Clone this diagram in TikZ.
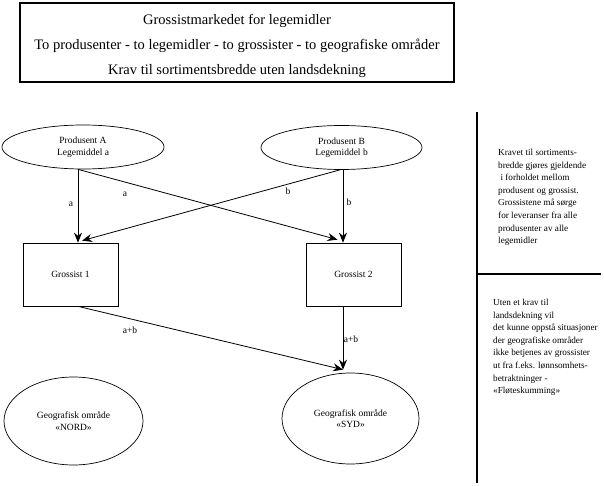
\documentclass[tikz,border=0pt]{standalone}
\usepackage{fontspec}
\setmainfont{Liberation Serif}
\usetikzlibrary{shapes.geometric,arrows.meta,calc}
\tikzset{
  ell/.style={draw,ellipse,inner sep=0pt,line width=0.7pt,font=\fontsize{9.5}{11.5}\selectfont,align=center},
  gbox/.style={draw,rectangle,inner sep=0pt,minimum width=95pt,minimum height=63pt,line width=0.7pt,font=\fontsize{9.5}{11.5}\selectfont},
  conn/.style={line width=0.8pt,-{Stealth[length=10pt,width=8pt]}},
  lbl/.style={font=\fontsize{9.5}{11.5}\selectfont,inner sep=0pt},
  sidetext/.style={font=\fontsize{9.2}{12.6}\selectfont,align=left,inner sep=0pt,anchor=north west},
  rule/.style={line width=1.6pt}
}
\begin{document}
\begin{tikzpicture}[x=1pt,y=-1pt]
\useasboundingbox (0,0) rectangle (604,486);
\node[draw,line width=1.3pt,minimum width=434pt,minimum height=79pt,inner sep=0pt] (titlebox) at (237,42.5) {};
\node[font=\fontsize{14.5}{25}\selectfont,align=center,inner sep=0pt] (title) at (237,46)
  {Grossistmarkedet for legemidler\\To produsenter - to legemidler - to grossister - to geografiske områder\\Krav til sortimentsbredde uten landsdekning};

\node[ell,minimum width=162pt,minimum height=44pt] (A) at (83,147) {Produsent A\\Legemiddel a};
\node[ell,minimum width=161pt,minimum height=44pt] (B) at (341.5,147.5) {Produsent B\\Legemiddel b};
\node[gbox] (G1) at (70.5,274.5) {Grossist 1};
\node[gbox] (G2) at (353.5,274.5) {Grossist 2};
\node[ell,minimum width=139pt,minimum height=88pt] (N) at (73.5,421) {Geografisk område\\«NORD»};
\node[ell,minimum width=137pt,minimum height=91pt] (S) at (350.5,418.5) {Geografisk område\\«SYD»};

\draw[conn] ([xshift=-5pt]A.south) -- ([xshift=7.5pt]G1.north);
\draw[conn] ([xshift=-5pt]A.south) -- ([xshift=-16pt,yshift=3pt]G2.north);
\draw[conn] ([xshift=-1.5pt]B.south) -- ([xshift=11.5pt,yshift=2pt]G1.north);
\draw[conn] ([xshift=1.5pt]B.south) -- ([xshift=-10.5pt]G2.north);
\draw[conn] ([xshift=7.5pt]G1.south) -- ([xshift=-7.5pt,yshift=3pt]S.north);
\draw[conn] ([xshift=-10.5pt]G2.south) -- ([xshift=-7.5pt,yshift=3pt]S.north);

\node[lbl] (la1) at (71,204) {a};
\node[lbl] (la2) at (125,194) {a};
\node[lbl] (lb1) at (288,191) {b};
\node[lbl] (lb2) at (349,202) {b};
\node[lbl] (lab1) at (130,330) {a+b};
\node[lbl] (lab2) at (351,339) {a+b};

\coordinate (vtop) at (477,112);
\coordinate (vbot) at (477,483);
\coordinate (hl) at (477,274);
\coordinate (hr) at (601,274);
\draw[rule] (vtop) -- (vbot);
\draw[rule] (hl) -- (hr);

\node[sidetext] (t1) at (498,149) {Kravet til sortiments-\\bredde gjøres gjeldende\\\ i forholdet mellom\\produsent og grossist.\\Grossistene må sørge\\for leveranser fra alle\\produsenter av alle\\legemidler};
\node[sidetext] (t2) at (493,299) {Uten et krav til\\landsdekning vil\\det kunne oppstå situasjoner\\der geografiske områder\\ikke betjenes av grossister\\ut fra f.eks. lønnsomhets-\\betraktninger -\\«Fløteskumming»};
\end{tikzpicture}
\end{document}
